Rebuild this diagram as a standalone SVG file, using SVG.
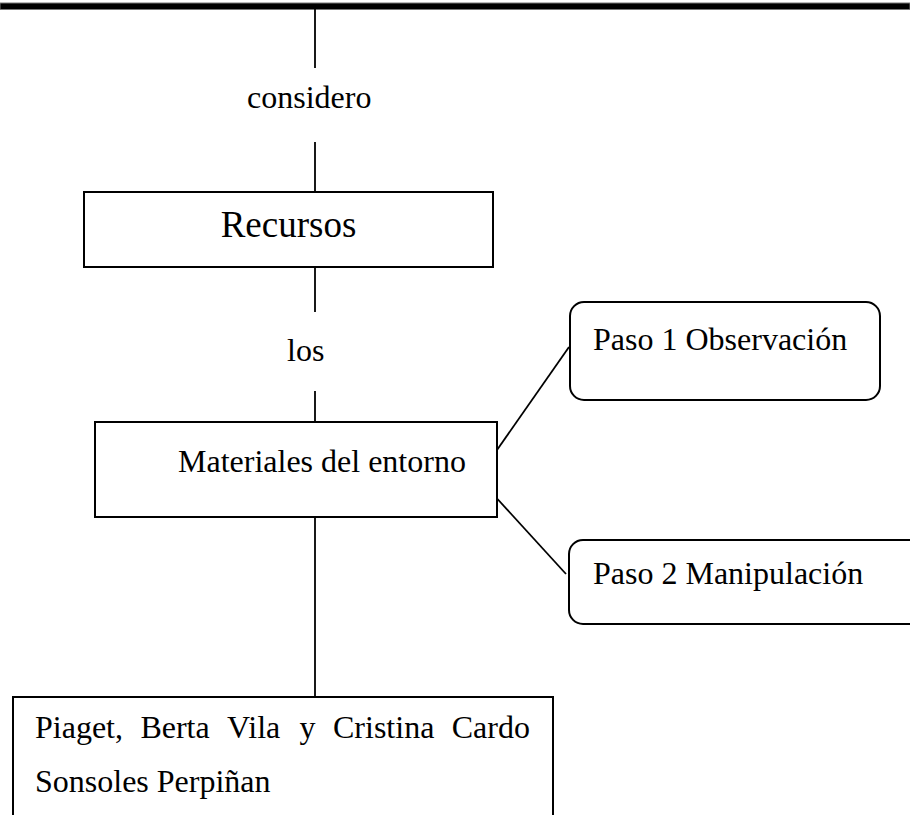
<svg xmlns="http://www.w3.org/2000/svg" width="910" height="815" viewBox="0 0 910 815">
<style>
  text { font-family: "Liberation Serif", "Times New Roman", serif; fill: #000; }
  .t { font-size: 32px; }
  .big { font-size: 37px; }
  .box { fill: #fff; stroke: #000; stroke-width: 2; }
  .ln { stroke: #000; stroke-width: 1.8; fill: none; }
</style>
<rect x="0" y="3" width="910" height="6.5" fill="#000" stroke="#777" stroke-width="1"/>
<g id="connectors">
  <line class="ln" x1="315" y1="9" x2="315" y2="68"/>
  <line class="ln" x1="315" y1="142" x2="315" y2="192"/>
  <line class="ln" x1="315" y1="267" x2="315" y2="312"/>
  <line class="ln" x1="315" y1="391" x2="315" y2="422"/>
  <line class="ln" x1="315" y1="517" x2="315" y2="697"/>
  <line class="ln" x1="497" y1="450" x2="569" y2="347"/>
  <line class="ln" x1="492" y1="493" x2="566" y2="574"/>
</g>
<g id="label-considero"><text class="t" x="247" y="108">considero</text></g>
<g id="label-los"><text class="t" x="287" y="361">los</text></g>
<g id="recursos">
  <rect class="box" x="84" y="192" width="409" height="75"/>
  <text class="big" x="288.5" y="237" text-anchor="middle">Recursos</text>
</g>
<g id="materiales">
  <rect class="box" x="95" y="422" width="402" height="95"/>
  <text class="t" x="178" y="472">Materiales del entorno</text>
</g>
<g id="paso1">
  <rect class="box" x="570" y="302" width="310" height="98" rx="14" ry="14"/>
  <text class="t" x="593" y="350">Paso 1 Observación</text>
</g>
<g id="paso2">
  <rect class="box" x="569" y="540" width="360" height="84" rx="14" ry="14"/>
  <text class="t" x="593" y="584">Paso 2 Manipulación</text>
</g>
<g id="autores">
  <rect class="box" x="13" y="697" width="540" height="140"/>
  <text class="t" y="738"><tspan x="35">Piaget,</tspan><tspan x="140.4">Berta</tspan><tspan x="227.1">Vila</tspan><tspan x="299.6">y</tspan><tspan x="333">Cristina</tspan><tspan x="451.7">Cardo</tspan></text>
  <text class="t" x="35" y="792">Sonsoles Perpiñan</text>
</g>
</svg>
